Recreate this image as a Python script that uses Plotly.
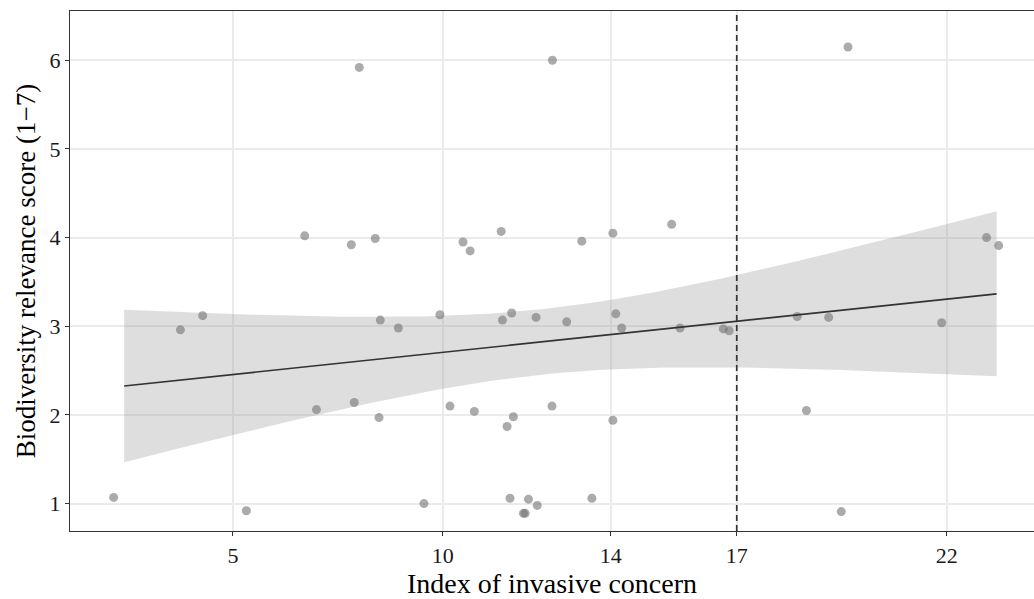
import numpy as np
import plotly.graph_objects as go

# Index of invasive concern (x) and biodiversity relevance score (y), jittered points
concern = [8.01, 6.71, 7.82, 8.39, 12.61, 10.48, 10.65, 11.39, 13.31, 14.05, 15.45,
           19.65, 22.95, 23.24, 2.16, 3.75, 4.28, 5.32, 6.99, 7.89, 8.48, 8.51, 8.94,
           9.93, 10.17, 10.75, 11.42, 11.64, 12.22, 12.95, 14.12, 14.26, 15.65,
           11.68, 11.53, 12.60, 14.05, 9.55, 11.60, 12.04, 12.25, 11.92, 11.96, 13.55,
           16.68, 16.82, 18.44, 19.19, 21.88, 18.66, 19.49]
relevance = [5.92, 4.02, 3.92, 3.99, 6.00, 3.95, 3.85, 4.07, 3.96, 4.05, 4.15,
             6.15, 4.00, 3.91, 1.07, 2.96, 3.12, 0.92, 2.06, 2.14, 1.97, 3.07, 2.98,
             3.13, 2.10, 2.04, 3.07, 3.15, 3.10, 3.05, 3.14, 2.98, 2.98,
             1.98, 1.87, 2.10, 1.94, 1.00, 1.06, 1.05, 0.98, 0.89, 0.89, 1.06,
             2.97, 2.95, 3.11, 3.10, 3.04, 2.05, 0.91]
fit_range = [2.41, 23.19]
threshold = 17
x_ticks = [5, 10, 14, 17, 22]
y_ticks = [1, 2, 3, 4, 5, 6]

x = np.array(concern)
y = np.array(relevance)
n = len(x)
slope, intercept = np.polyfit(x, y, 1)
resid = y - (intercept + slope * x)
s = np.sqrt(np.sum(resid ** 2) / (n - 2))
sxx = np.sum((x - x.mean()) ** 2)
tq = 2.0096  # t(0.975, df=49)
xs = np.linspace(fit_range[0], fit_range[1], 80)
ys = intercept + slope * xs
hw = tq * s * np.sqrt(1 / n + (xs - x.mean()) ** 2 / sxx)

font_family = "Liberation Serif, Times New Roman, serif"

fig = go.Figure()
fig.add_trace(go.Scatter(
    x=np.concatenate([xs, xs[::-1]]), y=np.concatenate([ys + hw, (ys - hw)[::-1]]),
    fill="toself", fillcolor="rgba(153,153,153,0.32)", line=dict(width=0),
    hoverinfo="skip", showlegend=False))
fig.add_trace(go.Scatter(
    x=concern, y=relevance, mode="markers",
    marker=dict(size=9, color="rgba(115,115,115,0.6)", line=dict(width=0)),
    showlegend=False))
fig.add_trace(go.Scatter(
    x=xs, y=ys, mode="lines", line=dict(color="#333333", width=1.7),
    showlegend=False))
fig.add_vline(x=threshold, line=dict(color="#333333", width=1.7, dash="6px,4px"))

fig.update_layout(
    width=1034, height=599,
    margin=dict(l=70, r=0, t=11, b=68),
    plot_bgcolor="white", paper_bgcolor="white",
    font=dict(family=font_family, color="black"),
    xaxis=dict(
        range=[1.12, 24.08], tickvals=x_ticks, ticktext=[str(v) for v in x_ticks],
        showgrid=True, gridcolor="#ebebeb", gridwidth=1.5,
        zeroline=False, showline=True, linecolor="#333333", linewidth=1.3, mirror=True,
        ticks="outside", ticklen=4, tickcolor="#333333", tickwidth=1.3,
        tickfont=dict(size=22, color="#1a1a1a", family=font_family),
        title=dict(text="Index of invasive concern", font=dict(size=28, family=font_family), standoff=0)),
    yaxis=dict(
        range=[0.691, 6.556], tickvals=y_ticks, ticktext=[str(v) for v in y_ticks],
        showgrid=True, gridcolor="#ebebeb", gridwidth=1.5,
        zeroline=False, showline=True, linecolor="#333333", linewidth=1.3, mirror=False,
        ticks="outside", ticklen=4, tickcolor="#333333", tickwidth=1.3,
        tickfont=dict(size=22, color="#1a1a1a", family=font_family),
        title=dict(text="Biodiversity relevance score (1\u22127)", font=dict(size=27, family=font_family), standoff=6)),
)
fig.write_html("out.html")
